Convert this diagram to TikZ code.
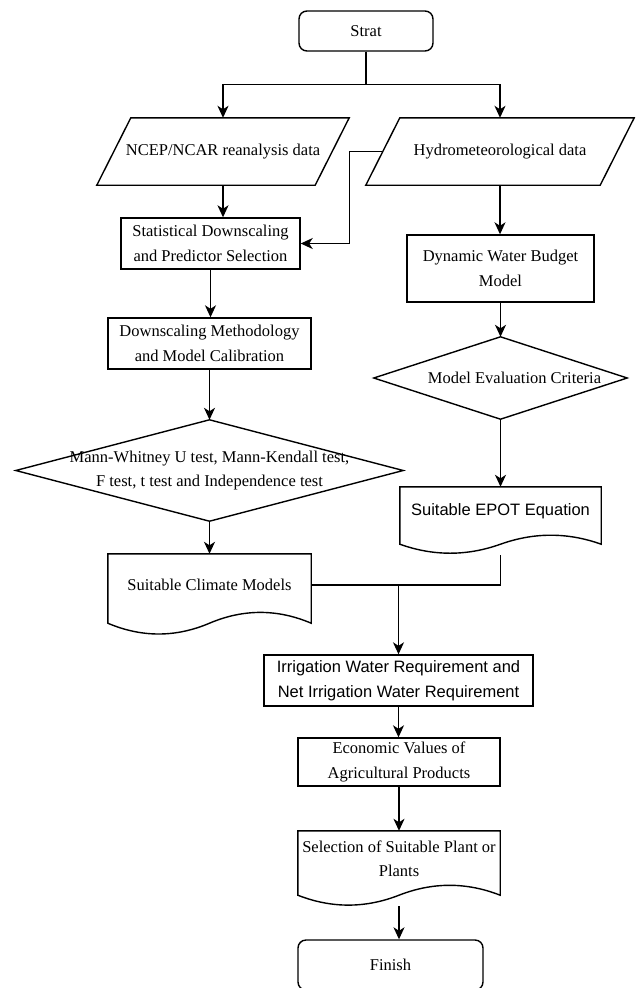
\documentclass[tikz,border=0pt]{standalone}
\usepackage{fontspec}
\setmainfont{Liberation Serif}
\newfontfamily\arialfont{Liberation Sans}
\usetikzlibrary{arrows.meta,calc}
\tikzset{
  line/.style={line width=1.4pt, line join=miter},
  arr/.style={line, -{Stealth[length=12pt,width=11pt,inset=3.5pt]}},
  plain/.style={inner sep=0pt, align=center, font=\fontsize{16.5}{24.5}\selectfont},
  proc/.style={plain, draw, line width=1.4pt},
  sans/.style={font=\arialfont\fontsize{16.5}{24.5}\selectfont},
}
% document shape: #1 node, #2 wave amplitude, #3 extension of straight sides below node
\newcommand\wavedoc[3]{%
  \draw[line] let \p1=([yshift=-#3]#1.south west), \p2=([yshift=-#3]#1.south east), \n1={\x2-\x1} in
    (\p1) -- (#1.north west) -- (#1.north east) -- (\p2)
    .. controls ({\x1+\n1*5/6*1pt},{\y1+0.6*#2}) and ({\x1+\n1*2/3*1pt},{\y1+0.6*#2}) .. ({\x1+\n1/2*1pt},\y1)
    .. controls ({\x1+\n1/3*1pt},{\y1-0.6*#2}) and ({\x1+\n1/6*1pt},{\y1-0.6*#2}) .. (\p1) -- cycle;}
\begin{document}
\begin{tikzpicture}[x=1pt,y=-1pt]
\clip (0,0) rectangle (635,988);
\fill[white] (0,0) rectangle (635,988);

% nodes
\node[proc, rounded corners=8pt, minimum width=134pt, minimum height=40pt] (start) at (366,31) {Strat};

\node[plain, minimum width=252pt, minimum height=67pt] (ncep) at (223,151.5) {NCEP/NCAR reanalysis data};
\draw[line] ([xshift=34pt]ncep.north west) -- (ncep.north east) -- ([xshift=-34pt]ncep.south east) -- (ncep.south west) -- cycle;

\node[plain, minimum width=268pt, minimum height=67pt] (hydro) at (500,151.5) {Hydrometeorological data};
\draw[line] ([xshift=34pt]hydro.north west) -- (hydro.north east) -- ([xshift=-34pt]hydro.south east) -- (hydro.south west) -- cycle;
\coordinate (hl) at ([xshift=17pt]hydro.west);

\node[proc, minimum width=179pt, minimum height=51pt] (stat) at (210.5,243.5) {Statistical Downscaling\\and Predictor Selection};
\node[proc, minimum width=187pt, minimum height=67pt] (dyn) at (500.5,268.5) {Dynamic Water Budget\\Model};
\node[proc, minimum width=203pt, minimum height=51pt] (down) at (209.5,343.5) {Downscaling Methodology\\and Model Calibration};

\node[plain, minimum width=387pt, minimum height=101pt] (mann) at (209.5,470.5) {Mann-Whitney U test, Mann-Kendall test,\\F test, t test and Independence test};
\draw[line] (mann.north) -- (mann.east) -- (mann.south) -- (mann.west) -- cycle;

\node[plain, minimum width=253pt, minimum height=82pt] (eval) at (500.5,378) {\hspace*{28pt}Model Evaluation Criteria};
\draw[line] (eval.north) -- (eval.east) -- (eval.south) -- (eval.west) -- cycle;

\node[plain, sans, minimum width=201pt, minimum height=49pt] (epot) at (500.5,511.5) {Suitable EPOT Equation};
\wavedoc{epot}{20pt}{8pt}

\node[plain, minimum width=203pt, minimum height=62pt] (climate) at (209.5,585) {Suitable Climate Models};
\wavedoc{climate}{24pt}{7pt}

\node[proc, sans, minimum width=269pt, minimum height=51pt] (irr) at (398.5,680.5) {Irrigation Water Requirement and\\Net Irrigation Water Requirement};
\node[proc, minimum width=202pt, minimum height=48pt] (econ) at (399,762) {Economic Values of\\Agricultural Products};

\node[plain, minimum width=202pt, minimum height=56pt] (sel) at (399,859) {Selection of Suitable Plant or\\Plants};
\wavedoc{sel}{22pt}{8pt}

\node[proc, rounded corners=8pt, minimum width=185pt, minimum height=50pt] (finish) at (390.5,965) {Finish};

% connectors
\draw[arr] (start.south) -- ++(0,33) -| (ncep.north);
\draw[arr] (start.south) -- ++(0,33) -| (hydro.north);
\draw[arr] (ncep.south) -- (ncep.south |- stat.north);
\draw[arr] (hl) -| ([xshift=49pt]stat.east) -- (stat.east);
\draw[arr] (hydro.south) -- (hydro.south |- dyn.north);
\draw[arr] (stat.south) -- (stat.south |- down.north);
\draw[arr] (down.south) -- (mann.north);
\draw[arr] (dyn.south) -- (eval.north);
\draw[arr] (eval.south) -- (epot.north);
\draw[arr] (mann.south) -- (climate.north);
\coordinate (epotb) at ([yshift=-19pt]epot.south);
\draw[line] (epotb) |- (climate.east);
\draw[arr] (irr.north |- climate.east) -- (irr.north);
\draw[arr] (irr.south) -- (irr.south |- econ.north);
\draw[arr] (econ.south) -- (sel.north);
\coordinate (selb) at ([yshift=-19pt]sel.south);
\draw[arr] (selb) -- (selb |- finish.north);
\end{tikzpicture}
\end{document}
